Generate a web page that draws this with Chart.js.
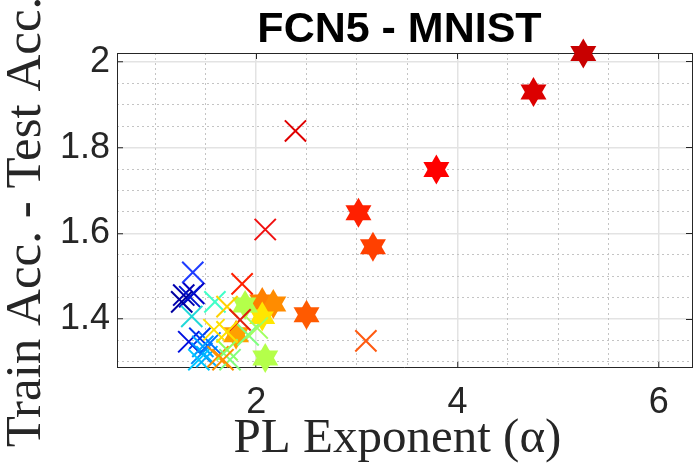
<!DOCTYPE html>
<html>
<head>
<meta charset="utf-8">
<script src="https://cdn.jsdelivr.net/npm/chart.js@4.4.1/dist/chart.umd.min.js"></script>
<style>
html, body { margin: 0; padding: 0; background: #fff; }
#wrap { width: 693px; height: 475px; }
</style>
</head>
<body>
<div id="wrap"><canvas id="plChart" width="693" height="475"></canvas></div>
<script>
// 데이터
const chartTitle = 'FCN5 - MNIST';
const xLabel = 'PL Exponent (α)';
const yLabel = 'Train Acc. - Test Acc.';

const xTicks = [2, 4, 6];
const yTicks = [1.4, 1.6, 1.8, 2];
const xMinorTicks = [1, 1.5, 2.5, 3, 3.5, 4.5, 5, 5.5];
const yMinorTicks = [1.3, 1.35, 1.45, 1.5, 1.55, 1.65, 1.7, 1.75, 1.85, 1.9, 1.95];

// X 표시 (cross)
const crossX = [2.39, 2.09, 3.09, 1.37, 1.38, 1.28, 1.34, 1.26, 1.36, 1.59, 1.71, 1.33, 1.44, 1.47,
	1.46, 1.43, 1.51, 1.54, 1.58, 1.62, 1.71, 1.86, 1.84, 1.92, 2.01, 1.71, 1.74, 1.67];
const crossY = [1.839, 1.609, 1.349, 1.509, 1.46, 1.456, 1.452, 1.44, 1.406, 1.44, 1.429, 1.347, 1.355, 1.336,
	1.32, 1.305, 1.312, 1.344, 1.375, 1.312, 1.328, 1.482, 1.398, 1.363, 1.379, 1.37, 1.305, 1.305];
const crossColors = ['#E00000', '#F01010', '#FF5A10', '#1E3CFF', '#0000C8', '#0000B0', '#0014D0', '#0000A0',
	'#20D8D8', '#40FFC8', '#FFD200', '#0010E0', '#0038F0', '#00A0FF', '#0090FF', '#00C8FF', '#00B0FF',
	'#0070FF', '#FFE000', '#FF9000', '#90FF60', '#FF2000', '#E02010', '#80FF80', '#A0FF60', '#FFE000',
	'#80FF80', '#FF9000'];

// 별 표시 (hexagram)
const starX = [5.25, 4.755, 3.79, 3.016, 3.16, 2.50, 2.06, 2.17, 1.80, 2.06, 1.89, 2.09];
const starY = [2.02, 1.93, 1.749, 1.648, 1.569, 1.41, 1.44, 1.435, 1.363, 1.406, 1.433, 1.309];
const starColors = ['#C80000', '#DC0000', '#FF0000', '#FF2000', '#FF4000', '#FF5A00', '#FF8000', '#FF8C00',
	'#FFA000', '#FFE600', '#B4FF4A', '#B4FF4A'];

const X_MIN = 0.617, X_MAX = 6.33;
const Y_MIN = 1.288, Y_MAX = 2.021;
const AXIS_COL = '#262626';
const SANS = '"Liberation Sans", Arial, Helvetica, sans-serif';
const SERIF = '"Liberation Serif", "Times New Roman", serif';

const toPoints = (xs, ys) => xs.map((x, i) => ({x: x, y: ys[i]}));
const fixTicks = (list) => (axis) => { axis.ticks = list.map(v => ({value: v})); };
// 축 크기 고정 + 라벨 여백 제거
const fitH = (h) => (a) => { a.height = h; a.paddingLeft = 0; a.paddingRight = 0; };
const fitW = (w) => (a) => { a.width = w; a.paddingTop = 0; a.paddingBottom = 0; };

// 제목, 축 라벨: 플롯 영역 기준으로 배치
const labelPlugin = {
	id: 'plotLabels',
	afterDraw: (chart) => {
		const {ctx, chartArea} = chart;
		const midX = (chartArea.left + chartArea.right) / 2;
		const midY = (chartArea.top + chartArea.bottom) / 2;
		ctx.save();
		ctx.textAlign = 'center';
		ctx.textBaseline = 'alphabetic';

		ctx.font = 'bold 43px ' + SANS;
		ctx.fillStyle = '#000';
		ctx.fillText(chartTitle, midX - 5, 42);

		ctx.font = '49px ' + SERIF;
		ctx.fillStyle = AXIS_COL;
		ctx.fillText(xLabel, midX - 7, 452);

		ctx.translate(40, midY + 12);
		ctx.rotate(-Math.PI / 2);
		ctx.font = '51px ' + SERIF;
		ctx.fillText(yLabel, 0, 0);
		ctx.restore();
	}
};

const minorGrid = {color: '#C4C4C4', lineWidth: 1, drawTicks: false};
const minorBorder = {display: false, dash: [2, 3]};
const boxTicks = {drawOnChartArea: false, drawTicks: true, tickLength: -6, tickColor: AXIS_COL, tickWidth: 1};
const tickText = (v) => String(v);

const chart = new Chart(document.getElementById('plChart'), {
	type: 'scatter',
	data: {
		datasets: [
			{
				label: 'cross',
				data: toPoints(crossX, crossY),
				pointStyle: 'crossRot',
				pointRadius: 15,
				pointBorderWidth: 2,
				pointBorderColor: crossColors,
				showLine: false,
				clip: false,
				order: 1
			},
			{
				label: 'star-up',
				data: toPoints(starX, starY),
				pointStyle: 'triangle',
				pointRotation: 0,
				pointRadius: 15,
				pointBorderWidth: 0,
				pointBackgroundColor: starColors,
				showLine: false,
				clip: false,
				order: 2
			},
			{
				label: 'star-down',
				data: toPoints(starX, starY),
				pointStyle: 'triangle',
				pointRotation: 180,
				pointRadius: 15,
				pointBorderWidth: 0,
				pointBackgroundColor: starColors,
				showLine: false,
				clip: false,
				order: 2
			}
		]
	},
	options: {
		responsive: false,
		animation: false,
		events: [],
		layout: {autoPadding: false, padding: {top: 53, right: 1, left: 0, bottom: 0}},
		plugins: {legend: {display: false}, tooltip: {enabled: false}, title: {display: false}},
		scales: {
			x: {
				type: 'linear', position: 'bottom', min: X_MIN, max: X_MAX, bounds: 'data',
				afterBuildTicks: fixTicks(xTicks),
				afterFit: fitH(108),
				grid: {color: '#E3E3E3', lineWidth: 1.5, drawTicks: true, tickLength: -6, tickColor: AXIS_COL, tickWidth: 1},
				border: {display: true, color: AXIS_COL, width: 1},
				ticks: {autoSkip: false, maxRotation: 0, padding: 20, color: AXIS_COL, font: {family: SANS, size: 36}, callback: tickText},
				title: {display: false}
			},
			y: {
				type: 'linear', position: 'left', min: Y_MIN, max: Y_MAX, bounds: 'data',
				afterBuildTicks: fixTicks(yTicks),
				afterFit: fitW(117),
				grid: {color: '#E3E3E3', lineWidth: 1.5, drawTicks: true, tickLength: -6, tickColor: AXIS_COL, tickWidth: 1},
				border: {display: true, color: AXIS_COL, width: 1},
				ticks: {autoSkip: false, padding: 13, color: AXIS_COL, font: {family: SANS, size: 36}, callback: tickText},
				title: {display: false}
			},
			xTop: {
				type: 'linear', position: 'top', min: X_MIN, max: X_MAX, bounds: 'data',
				afterBuildTicks: fixTicks(xTicks),
				afterFit: fitH(0),
				grid: boxTicks,
				border: {display: true, color: AXIS_COL, width: 1},
				ticks: {display: false}
			},
			yRight: {
				type: 'linear', position: 'right', min: Y_MIN, max: Y_MAX, bounds: 'data',
				afterBuildTicks: fixTicks(yTicks),
				afterFit: fitW(0),
				grid: boxTicks,
				border: {display: true, color: AXIS_COL, width: 1},
				ticks: {display: false}
			},
			xMinor: {
				type: 'linear', position: 'bottom', min: X_MIN, max: X_MAX, bounds: 'data',
				afterBuildTicks: fixTicks(xMinorTicks),
				afterFit: fitH(0),
				grid: minorGrid,
				border: minorBorder,
				ticks: {display: false}
			},
			yMinor: {
				type: 'linear', position: 'left', min: Y_MIN, max: Y_MAX, bounds: 'data',
				afterBuildTicks: fixTicks(yMinorTicks),
				afterFit: fitW(0),
				grid: minorGrid,
				border: minorBorder,
				ticks: {display: false}
			}
		}
	},
	plugins: [labelPlugin]
});
</script>
</body>
</html>
